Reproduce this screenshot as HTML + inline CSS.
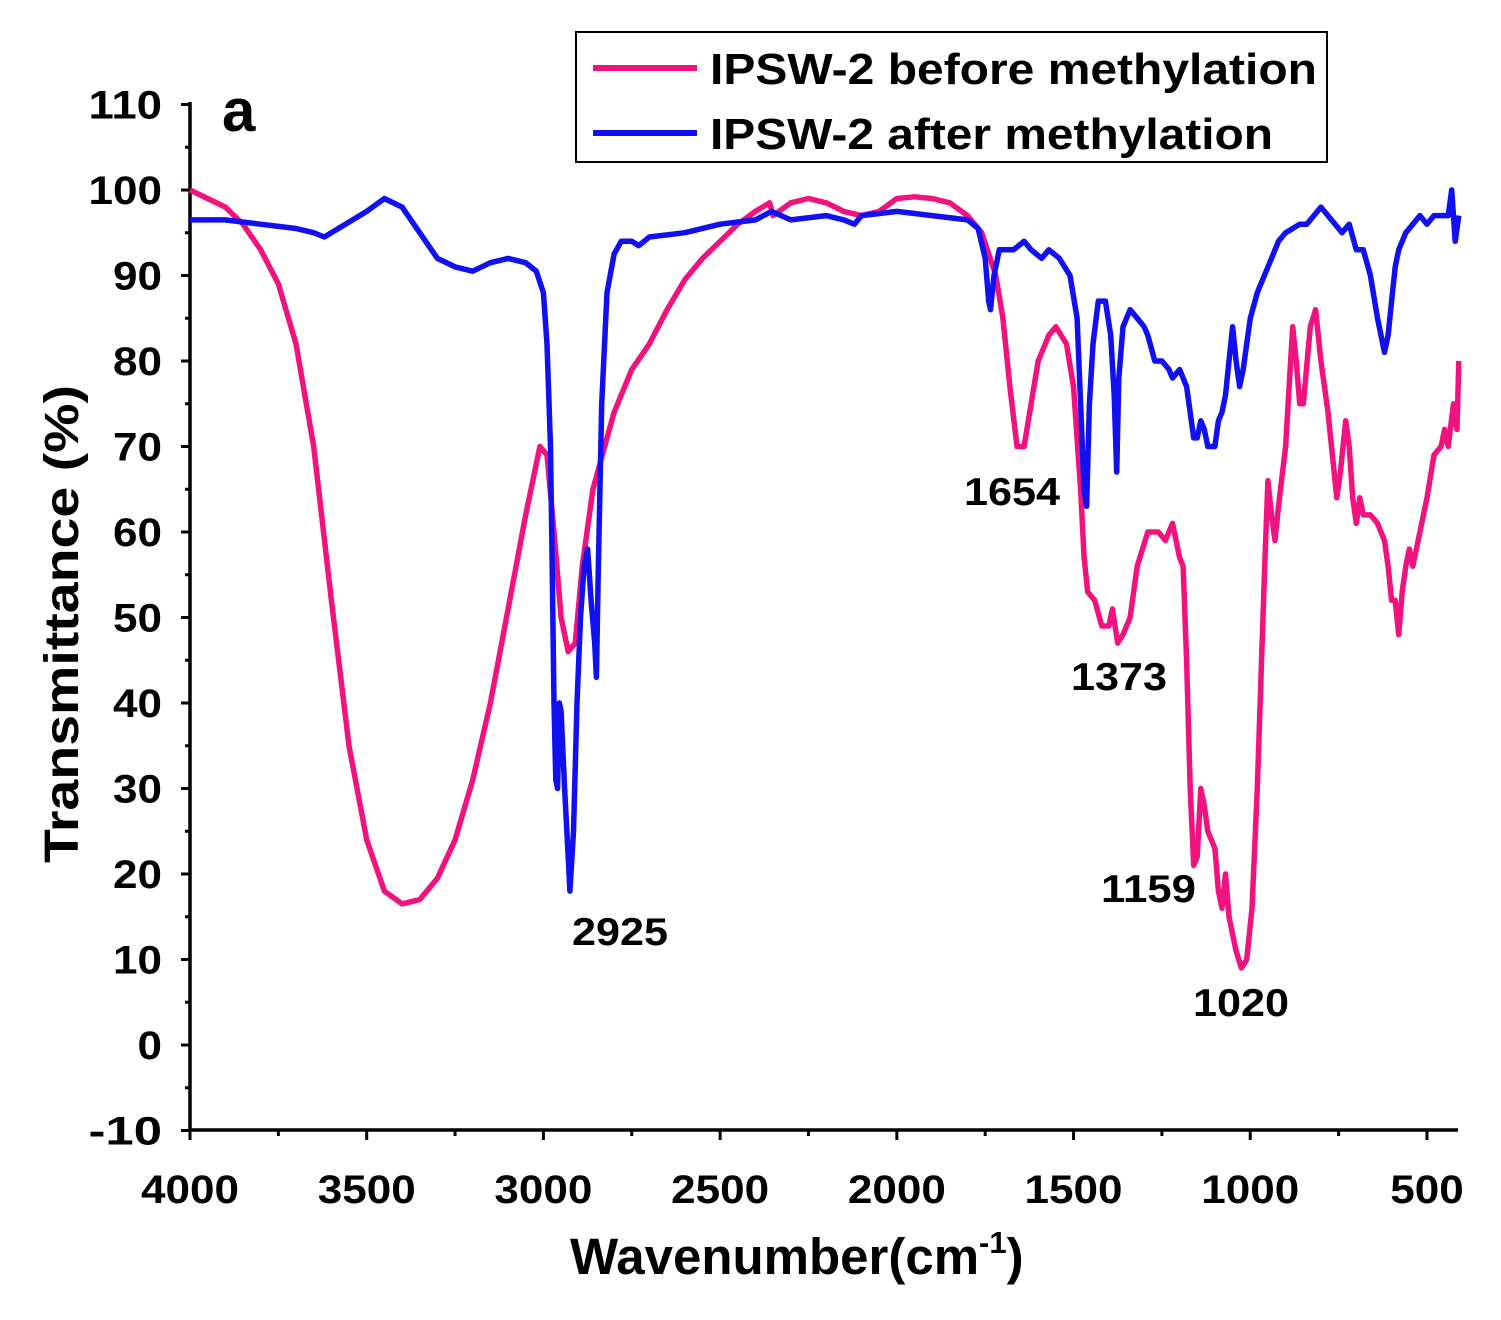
<!DOCTYPE html>
<html><head><meta charset="utf-8"><style>
body{margin:0;background:#fff;}
svg text{font-family:"Liberation Sans",Arial,sans-serif;font-weight:bold;}
</style></head><body>
<svg id="chart" width="1501" height="1315" viewBox="0 0 1501 1315" xmlns="http://www.w3.org/2000/svg">
<g id="axes"></g>
<g id="series"></g>
<text x="222" y="131" font-size="60">a</text>
<text x="572" y="945" font-size="39" textLength="96" lengthAdjust="spacingAndGlyphs">2925</text>
<text x="964" y="505" font-size="39" textLength="96" lengthAdjust="spacingAndGlyphs">1654</text>
<text x="1071" y="690" font-size="39" textLength="96" lengthAdjust="spacingAndGlyphs">1373</text>
<text x="1101" y="902" font-size="39" textLength="95" lengthAdjust="spacingAndGlyphs">1159</text>
<text x="1193" y="1016" font-size="39" textLength="96" lengthAdjust="spacingAndGlyphs">1020</text>
<text transform="translate(78,624) rotate(-90)" text-anchor="middle" font-size="48" textLength="478" lengthAdjust="spacingAndGlyphs">Transmittance (%)</text>
<text x="570" y="1274" font-size="51">Wavenumber(cm<tspan dy="-21" font-size="31">-1</tspan><tspan dy="21">)</tspan></text>
<g>
<rect x="576" y="32" width="751" height="130" fill="#fff" stroke="#000" stroke-width="2"/>
<line x1="593" y1="68" x2="697" y2="68" stroke="#f0137f" stroke-width="6"/>
<text x="710" y="84" font-size="44" textLength="607" lengthAdjust="spacingAndGlyphs">IPSW-2 before methylation</text>
<line x1="593" y1="133" x2="697" y2="133" stroke="#1010f0" stroke-width="6"/>
<text x="710" y="149" font-size="44" textLength="563" lengthAdjust="spacingAndGlyphs">IPSW-2 after methylation</text>
</g>
</svg>
<script>
const NS="http://www.w3.org/2000/svg";
const xTicks=[4000,3500,3000,2500,2000,1500,1000,500];
const yTicks=[-10,0,10,20,30,40,50,60,70,80,90,100,110];
const beforeWn=[4000,3900,3850,3800,3750,3700,3650,3600,3550,3500,3450,3400,3350,3300,3250,3200,3150,3100,3050,3010,2990,2970,2950,2930,2910,2890,2860,2800,2750,2700,2650,2600,2550,2500,2450,2400,2360,2350,2300,2250,2200,2150,2100,2050,2000,1950,1900,1850,1800,1760,1720,1700,1680,1660,1640,1620,1600,1570,1550,1520,1500,1480,1470,1460,1440,1420,1400,1390,1375,1360,1340,1320,1290,1260,1240,1220,1200,1190,1180,1170,1160,1150,1140,1130,1120,1100,1090,1080,1070,1060,1040,1025,1010,995,980,960,950,940,930,920,900,890,880,870,860,850,830,815,800,780,770,755,745,730,720,710,700,690,680,660,640,620,610,600,590,580,570,560,550,540,520,500,480,460,450,440,425,415,410];
const beforeT=[100,98,96,93,89,82,70,52,35,24,18,16.5,17,19.5,24,31,40,51,62,70,69,60,50,46,47,56,65,74,79,82,86,89.5,92,94,96,97.5,98.5,97,98.5,99,98.5,97.5,97,97.5,99,99.2,99,98.5,97,95,90,85,77,70,70,75,80,83,84,82,77,65,57,53,52,49,49,51,47,48,50,56,60,60,59,61,57,56,45,30,21,22,30,28,25,23,18,16,20,15,11,9,10,16,30,55,66,62,59,63,70,77,84,80,75,75,84,86,80,74,70,64,67,73,70,64,61,64,62,62,61,59,56,52,52,48,53,56,58,56,60,64,69,70,72,70,75,72,80];
const afterWn=[4000,3900,3800,3700,3650,3620,3580,3500,3450,3400,3350,3300,3250,3200,3150,3100,3050,3020,3000,2990,2980,2975,2970,2965,2960,2955,2950,2940,2930,2925,2915,2905,2895,2885,2875,2865,2855,2850,2845,2835,2820,2800,2780,2750,2730,2700,2600,2500,2400,2355,2300,2200,2150,2120,2100,2000,1900,1800,1770,1750,1740,1735,1725,1710,1690,1670,1640,1620,1590,1570,1540,1510,1490,1480,1470,1463,1455,1445,1430,1410,1395,1385,1378,1372,1360,1340,1320,1300,1290,1270,1250,1230,1220,1200,1180,1160,1150,1140,1130,1120,1100,1090,1080,1070,1060,1050,1040,1030,1020,1010,1000,980,960,940,920,900,880,860,840,820,800,780,760,740,720,700,680,660,640,630,620,610,600,590,580,560,540,520,500,480,460,440,430,420,410];
const afterT=[96.5,96.5,96,95.5,95,94.5,95.5,97.5,99,98,95,92,91,90.5,91.5,92,91.5,90.5,88,82,70,55,40,31,30,40,39,30,22,18,25,40,50,56,58,52,47,43,55,75,88,92.5,94,94,93.5,94.5,95,96,96.5,97.5,96.5,97,96.5,96,97,97.5,97,96.5,95.5,92,87,86,90,93,93,93,94,93,92,93,92,90,85,75,65,63,75,82,87,87,83,76,67,78,84,86,85,84,83,80,80,79,78,79,77,71,71,73,72,70,70,73,74,76,80,84,80,77,79,82,85,88,90,92,94,95,95.5,96,96,97,98,97,96,95,96,93,93,90,85,83,81,83,87,91,93,95,96,97,96,97,97,97,100,94,97];
const X0=190,X1=1458,W1=410;
const sx=1267/3585;
function xs(w){return X0+(4000-w)*sx;}
function ys(t){return 1045-t*8.55;}
const axes=document.getElementById('axes');
function ln(x1,y1,x2,y2,w,name){const l=document.createElementNS(NS,'line');l.setAttribute('x1',x1);l.setAttribute('y1',y1);l.setAttribute('x2',x2);l.setAttribute('y2',y2);l.setAttribute('stroke','#000');l.setAttribute('stroke-width',w);


axes.appendChild(l);return l;}
function tx(x,y,s,anchor,name){const t=document.createElementNS(NS,'text');t.setAttribute('x',x);t.setAttribute('y',y);t.setAttribute('font-size','40');t.setAttribute('text-anchor',anchor);t.setAttribute('textLength',String(s.length*24.5));t.setAttribute('lengthAdjust','spacingAndGlyphs');t.textContent=s;


axes.appendChild(t);}
ln(X0,102,X0,1131.5,3.5,'y-axis-line');
ln(X0-1.5,1130,X1,1130,3.5,'x-axis-line');
yTicks.forEach(v=>{ln(X0-9,ys(v),X0,ys(v),3,'y-tick');tx(X0-28,ys(v)+14,String(v),'end','y-tick-label');
 if(v<110) ln(X0-5,ys(v+5),X0,ys(v+5),3,'y-minor-tick');});
xTicks.forEach(v=>{ln(xs(v),1130,xs(v),1140,3,'x-tick');tx(xs(v),1203,String(v),'middle','x-tick-label');
 if(v-250>W1) ln(xs(v-250),1130,xs(v-250),1136,3,'x-minor-tick');});
const ser=document.getElementById('series');
function draw(wn,t,col,name){const p=document.createElementNS(NS,'path');
 p.setAttribute('d',wn.map((w,i)=>(i?'L':'M')+xs(w).toFixed(1)+','+ys(t[i]).toFixed(1)).join(''));
 p.setAttribute('fill','none');p.setAttribute('stroke',col);p.setAttribute('stroke-width','5.5');p.setAttribute('stroke-linejoin','round');
 
 
 ser.appendChild(p);}
draw(beforeWn,beforeT,'#f0137f','series-before-methylation');
draw(afterWn,afterT,'#1010f0','series-after-methylation');
</script>
</body></html>
